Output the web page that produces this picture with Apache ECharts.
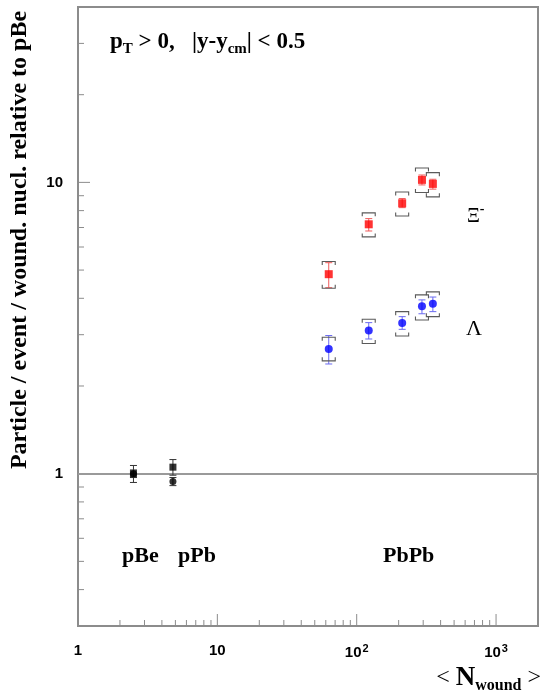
<!DOCTYPE html>
<html>
<head>
<meta charset="utf-8">
<script src="https://cdn.jsdelivr.net/npm/echarts@6/dist/echarts.min.js"></script>
<style>
  html, body { margin: 0; padding: 0; background: #fff; }
  #chart { width: 541px; height: 693px; }
</style>
</head>
<body>
<div id="chart"></div>
<script>
// Mean number of wounded nucleons per collision system
const nWoundPBe = 2.5;
const nWoundPPb = 4.8;
const nWoundPbPb = [63, 122, 212, 294, 352];

// Xi- yield per event per wounded nucleon, normalised to pBe
const xiPBe = 1.0, xiPBeErr = 0.067;
const xiPPb = 1.053, xiPPbErr = 0.065;
const xiPbPb = [4.84, 7.18, 8.48, 10.2, 9.88];
const xiPbPbStatLo = [4.35, 6.81, 8.19, 9.80, 9.48];
const xiPbPbStatHi = [5.30, 7.51, 8.80, 10.6, 10.25];
const xiPbPbSysLo = [4.33, 6.50, 7.67, 9.23, 8.92];
const xiPbPbSysHi = [5.35, 7.86, 9.27, 11.2, 10.8];

// Lambda yield per event per wounded nucleon, normalised to pBe
const lamPBe = 1.0, lamPBeErr = 0.03;
const lamPPb = 0.94, lamPPbErr = 0.03;
const lamPbPb = [2.68, 3.10, 3.29, 3.76, 3.83];
const lamPbPbStatLo = [2.38, 2.90, 3.13, 3.54, 3.60];
const lamPbPbStatHi = [2.98, 3.30, 3.46, 3.95, 4.04];
const lamPbPbSysLo = [2.44, 2.80, 2.97, 3.37, 3.46];
const lamPbPbSysHi = [2.94, 3.39, 3.60, 4.11, 4.21];

// Axis ranges and tick values
const xMin = 1, xMax = 2000;
const yMin = 0.3, yMax = 40;
const xMajorTicks = [1, 10, 100, 1000];
const xMinorTicks = [2, 3, 4, 5, 6, 7, 8, 9, 20, 30, 40, 50, 60, 70, 80, 90, 200, 300, 400, 500, 600, 700, 800, 900];
const yMajorTicks = [1, 10];
const yMinorTicks = [0.4, 0.5, 0.6, 0.7, 0.8, 0.9, 2, 3, 4, 5, 6, 7, 8, 9, 20, 30];
const xTickLabels = { 1: '1', 10: '10', 100: '10{sup|2}', 1000: '10{sup|3}' };
const yTickLabels = { 1: '1', 10: '10' };

const AXIS_GREY = '#8c8c8c';
const SERIF = '"Liberation Serif", "Times New Roman", serif';
const SANS = '"Liberation Sans", Arial, sans-serif';

const chart = echarts.init(document.getElementById('chart'));

// --- helpers --------------------------------------------------------------
function tickSeries(values, isX, len) {
  return {
    type: 'custom',
    silent: true,
    z: 4,
    data: values.map(v => (isX ? [v, yMin] : [xMin, v])),
    renderItem(params, api) {
      const p = api.coord([api.value(0), api.value(1)]);
      const shape = isX
        ? { x1: p[0], y1: p[1], x2: p[0], y2: p[1] - len }
        : { x1: p[0], y1: p[1], x2: p[0] + len, y2: p[1] };
      return { type: 'line', shape, style: { stroke: AXIS_GREY, lineWidth: 1 } };
    }
  };
}

// rows: [x, y, statLo, statHi, sysLo, sysHi]
function errorSeries(rows, color, withSys) {
  return {
    type: 'custom',
    silent: true,
    z: 6,
    data: rows,
    renderItem(params, api) {
      const x = api.value(0);
      const pLo = api.coord([x, api.value(2)]);
      const pHi = api.coord([x, api.value(3)]);
      const cx = pLo[0];
      const cap = 3.5;
      const children = [
        { type: 'line', shape: { x1: cx, y1: pLo[1], x2: cx, y2: pHi[1] }, style: { stroke: color, lineWidth: 1 } },
        { type: 'line', shape: { x1: cx - cap, y1: pLo[1], x2: cx + cap, y2: pLo[1] }, style: { stroke: color, lineWidth: 1 } },
        { type: 'line', shape: { x1: cx - cap, y1: pHi[1], x2: cx + cap, y2: pHi[1] }, style: { stroke: color, lineWidth: 1 } }
      ];
      if (withSys) {
        // systematic uncertainty drawn as brackets at both ends
        const sLo = api.coord([x, api.value(4)])[1];
        const sHi = api.coord([x, api.value(5)])[1];
        const hw = 6.5, hook = 3.5;
        const st = { stroke: '#5a5a5a', lineWidth: 1.1, fill: null };
        children.push(
          { type: 'polyline', shape: { points: [[cx - hw, sHi + hook], [cx - hw, sHi], [cx + hw, sHi], [cx + hw, sHi + hook]] }, style: st },
          { type: 'polyline', shape: { points: [[cx - hw, sLo - hook], [cx - hw, sLo], [cx + hw, sLo], [cx + hw, sLo - hook]] }, style: st }
        );
      }
      return { type: 'group', children };
    }
  };
}

// Measured text runs (for sub/superscripts) placed as graphic elements
const measureCtx = document.createElement('canvas').getContext('2d');
function textRun(x, yMid, parts, align) {
  const widths = parts.map(p => { measureCtx.font = p.font; return measureCtx.measureText(p.text).width; });
  const total = widths.reduce((a, b) => a + b, 0);
  let cur = align === 'right' ? x - total : (align === 'center' ? x - total / 2 : x);
  return parts.map((p, i) => {
    const el = {
      type: 'text', x: cur, y: yMid + (p.dy || 0), silent: true,
      style: { text: p.text, font: p.font, fill: '#000', align: 'left', verticalAlign: 'middle' }
    };
    cur += widths[i];
    return el;
  });
}

// --- data rows ------------------------------------------------------------
const xiRows = nWoundPbPb.map((n, i) => [n, xiPbPb[i], xiPbPbStatLo[i], xiPbPbStatHi[i], xiPbPbSysLo[i], xiPbPbSysHi[i]]);
const lamRows = nWoundPbPb.map((n, i) => [n, lamPbPb[i], lamPbPbStatLo[i], lamPbPbStatHi[i], lamPbPbSysLo[i], lamPbPbSysHi[i]]);
const xiSmallRows = [
  [nWoundPBe, xiPBe, xiPBe - xiPBeErr, xiPBe + xiPBeErr],
  [nWoundPPb, xiPPb, xiPPb - xiPPbErr, xiPPb + xiPPbErr]
];
const lamSmallRows = [
  [nWoundPBe, lamPBe, lamPBe - lamPBeErr, lamPBe + lamPBeErr],
  [nWoundPPb, lamPPb, lamPPb - lamPPbErr, lamPPb + lamPPbErr]
];

const bold = (px, fam) => `bold ${px}px ${fam}`;
const graphics = [].concat(
  // y-axis title
  [{
    type: 'text', x: 20, y: 240, rotation: Math.PI / 2, silent: true,
    style: {
      text: 'Particle / event / wound. nucl. relative to pBe',
      font: bold(24, SERIF), fill: '#000', align: 'center', verticalAlign: 'middle'
    }
  }],
  // x-axis title
  textRun(541, 678, [
    { text: '< ', font: `24px ${SERIF}` },
    { text: 'N', font: bold(27, SERIF) },
    { text: 'wound', font: bold(16, SERIF), dy: 8 },
    { text: ' >', font: `24px ${SERIF}` }
  ], 'right'),
  // kinematic cuts
  textRun(110, 42, [
    { text: 'p', font: bold(23, SERIF) },
    { text: 'T', font: bold(15, SERIF), dy: 7 },
    { text: ' > 0,   |y-y', font: bold(23, SERIF) },
    { text: 'cm', font: bold(15, SERIF), dy: 7 },
    { text: '| < 0.5', font: bold(23, SERIF) }
  ], 'left'),
  // particle labels
  textRun(467, 217, [
    { text: 'Ξ', font: `20px ${SERIF}` },
    { text: '-', font: bold(14, SERIF), dy: -8 }
  ], 'left'),
  textRun(466, 329, [{ text: 'Λ', font: `22px ${SERIF}` }], 'left'),
  // collision systems
  textRun(122, 556, [{ text: 'pBe', font: bold(22, SERIF) }], 'left'),
  textRun(178, 556, [{ text: 'pPb', font: bold(22, SERIF) }], 'left'),
  textRun(383, 556, [{ text: 'PbPb', font: bold(22, SERIF) }], 'left')
);

const option = {
  animation: false,
  backgroundColor: '#fff',
  grid: {
    left: 78, top: 7, right: 3, bottom: 67,
    show: true, borderColor: AXIS_GREY, borderWidth: 2, backgroundColor: 'transparent'
  },
  xAxis: {
    type: 'log', logBase: 10, min: xMin, max: xMax,
    axisLine: { show: false },
    axisTick: { show: false },
    splitLine: { show: false },
    minorTick: { show: false },
    axisLabel: {
      margin: 17,
      color: '#000',
      fontFamily: SANS, fontWeight: 'bold', fontSize: 15,
      showMaxLabel: false,
      formatter(v) {
        const key = Math.round(v);
        return Math.abs(v - key) < 1e-6 * Math.max(1, v) && xTickLabels[key] ? xTickLabels[key] : '';
      },
      rich: {
        sup: { fontFamily: SANS, fontWeight: 'bold', fontSize: 11, verticalAlign: 'bottom', padding: [0, 0, 9, 1] }
      }
    }
  },
  yAxis: {
    type: 'log', logBase: 10, min: yMin, max: yMax,
    axisLine: { show: false },
    axisTick: { show: false },
    splitLine: { show: false },
    minorTick: { show: false },
    axisLabel: {
      margin: 15,
      color: '#000',
      fontFamily: SANS, fontWeight: 'bold', fontSize: 15,
      formatter(v) {
        const key = Math.round(v);
        return Math.abs(v - key) < 1e-6 * Math.max(1, v) && yTickLabels[key] ? yTickLabels[key] : '';
      }
    }
  },
  graphic: graphics,
  series: [
    tickSeries(xMajorTicks, true, 12),
    tickSeries(xMinorTicks, true, 6),
    tickSeries(yMajorTicks, false, 12),
    tickSeries(yMinorTicks, false, 6),
    // reference level: equal to pBe
    {
      type: 'line', data: [], silent: true,
      markLine: {
        silent: true, symbol: 'none', label: { show: false },
        lineStyle: { color: '#9a9a9a', width: 2, type: 'solid' },
        data: [{ yAxis: 1 }]
      }
    },
    errorSeries(xiRows, '#f05a5a', true),
    errorSeries(lamRows, '#6a6af0', true),
    errorSeries(lamSmallRows, '#333', false),
    errorSeries(xiSmallRows, '#333', false),
    {
      type: 'scatter', z: 8, symbol: 'circle', symbolSize: 7,
      itemStyle: { color: '#000' },
      data: lamSmallRows.map(r => [r[0], r[1]])
    },
    {
      type: 'scatter', z: 9, symbol: 'rect', symbolSize: 7,
      itemStyle: { color: '#000' },
      data: xiSmallRows.map(r => [r[0], r[1]])
    },
    {
      type: 'scatter', z: 8, symbol: 'rect', symbolSize: 8,
      itemStyle: { color: '#ff0000' },
      data: xiRows.map(r => [r[0], r[1]])
    },
    {
      type: 'scatter', z: 8, symbol: 'circle', symbolSize: 8,
      itemStyle: { color: '#0000ff' },
      data: lamRows.map(r => [r[0], r[1]])
    }
  ]
};

chart.setOption(option);
</script>
</body>
</html>
